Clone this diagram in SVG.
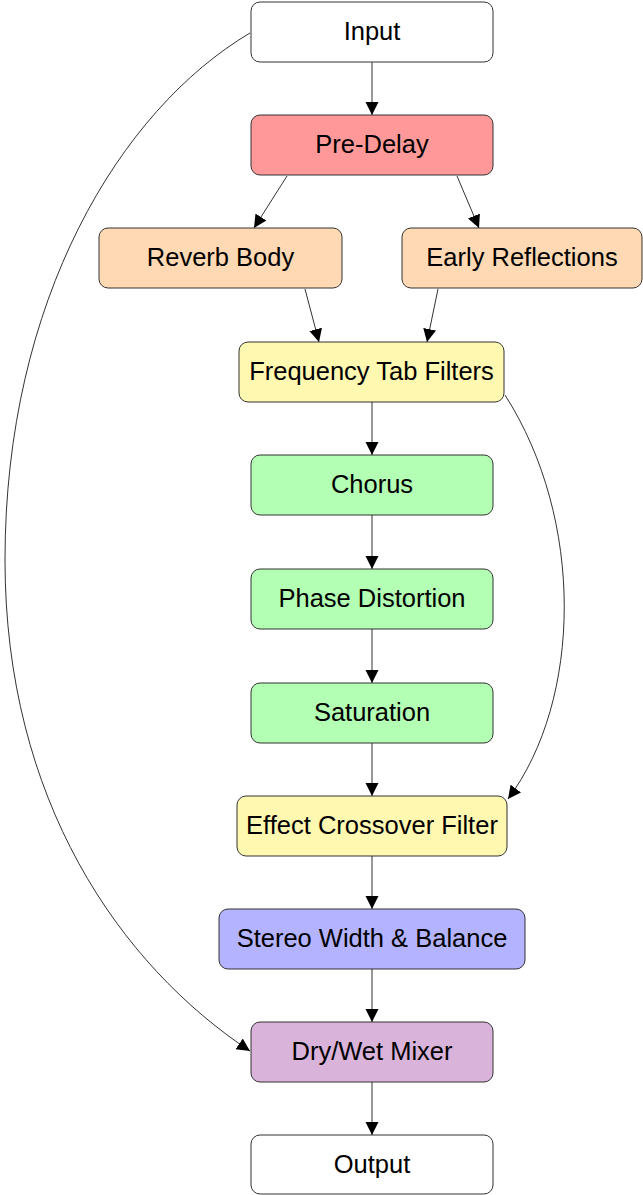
<svg xmlns="http://www.w3.org/2000/svg" width="643" height="1195" viewBox="0 0 643 1195">
<style>
.n rect{stroke:#333;stroke-width:1}
.n text{font-family:"Liberation Sans",Arial,sans-serif;font-size:25.5px;fill:#000;text-anchor:middle}
.e path{fill:none;stroke:#333;stroke-width:1}
</style>
<defs>
<marker id="ah" markerUnits="userSpaceOnUse" markerWidth="14" markerHeight="14" viewBox="0 0 14 14" refX="13" refY="7" orient="auto">
<path d="M0,0.5 L13,7 L0,13.5 z" fill="#000"/>
</marker>
</defs>
<rect width="643" height="1195" fill="#fff"/>
<g id="edges" class="e">
<path d="M372,62 L372,115" marker-end="url(#ah)"/>
<path d="M287,176 L254,228" marker-end="url(#ah)"/>
<path d="M457,176 L479,228" marker-end="url(#ah)"/>
<path d="M305,289 L319,342" marker-end="url(#ah)"/>
<path d="M438,289 L427,342" marker-end="url(#ah)"/>
<path d="M372,402 L372,455" marker-end="url(#ah)"/>
<path d="M372,515 L372,569" marker-end="url(#ah)"/>
<path d="M372,629 L372,683" marker-end="url(#ah)"/>
<path d="M372,743 L372,796" marker-end="url(#ah)"/>
<path d="M372,856 L372,909" marker-end="url(#ah)"/>
<path d="M372,969 L372,1022" marker-end="url(#ah)"/>
<path d="M372,1082 L372,1135" marker-end="url(#ah)"/>
<path d="M505,395 C585,520 582,700 508,799" marker-end="url(#ah)"/>
<path d="M250,33 C120,110 5,300 5,560 C5,800 120,965 250,1051" marker-end="url(#ah)"/>
</g>
<g id="input" class="n"><rect x="251" y="2" width="242" height="60" rx="9" fill="#fff"/><text x="372" y="40">Input</text></g>
<g id="predelay" class="n"><rect x="251" y="115" width="242" height="60" rx="9" fill="#ff9999"/><text x="372" y="153">Pre-Delay</text></g>
<g id="reverbbody" class="n"><rect x="99" y="228" width="243" height="60" rx="9" fill="#ffd9b3"/><text x="220.5" y="266">Reverb Body</text></g>
<g id="earlyreflections" class="n"><rect x="402" y="228" width="240" height="60" rx="9" fill="#ffd9b3"/><text x="522" y="266">Early Reflections</text></g>
<g id="freqtab" class="n"><rect x="239" y="342" width="265" height="60" rx="9" fill="#fff8b0"/><text x="371.5" y="380">Frequency Tab Filters</text></g>
<g id="chorus" class="n"><rect x="251" y="455" width="242" height="60" rx="9" fill="#b3ffb3"/><text x="372" y="493">Chorus</text></g>
<g id="phasedist" class="n"><rect x="251" y="569" width="242" height="60" rx="9" fill="#b3ffb3"/><text x="372" y="607">Phase Distortion</text></g>
<g id="saturation" class="n"><rect x="251" y="683" width="242" height="60" rx="9" fill="#b3ffb3"/><text x="372" y="721">Saturation</text></g>
<g id="crossover" class="n"><rect x="237" y="796" width="270" height="60" rx="9" fill="#fff8b0"/><text x="372" y="834">Effect Crossover Filter</text></g>
<g id="stereo" class="n"><rect x="219" y="909" width="306" height="60" rx="9" fill="#b3b3ff"/><text x="372" y="947">Stereo Width &amp; Balance</text></g>
<g id="drywet" class="n"><rect x="251" y="1022" width="242" height="60" rx="9" fill="#d9b3d9"/><text x="372" y="1060">Dry/Wet Mixer</text></g>
<g id="output" class="n"><rect x="251" y="1135" width="242" height="59" rx="9" fill="#fff"/><text x="372" y="1173">Output</text></g>
</svg>
